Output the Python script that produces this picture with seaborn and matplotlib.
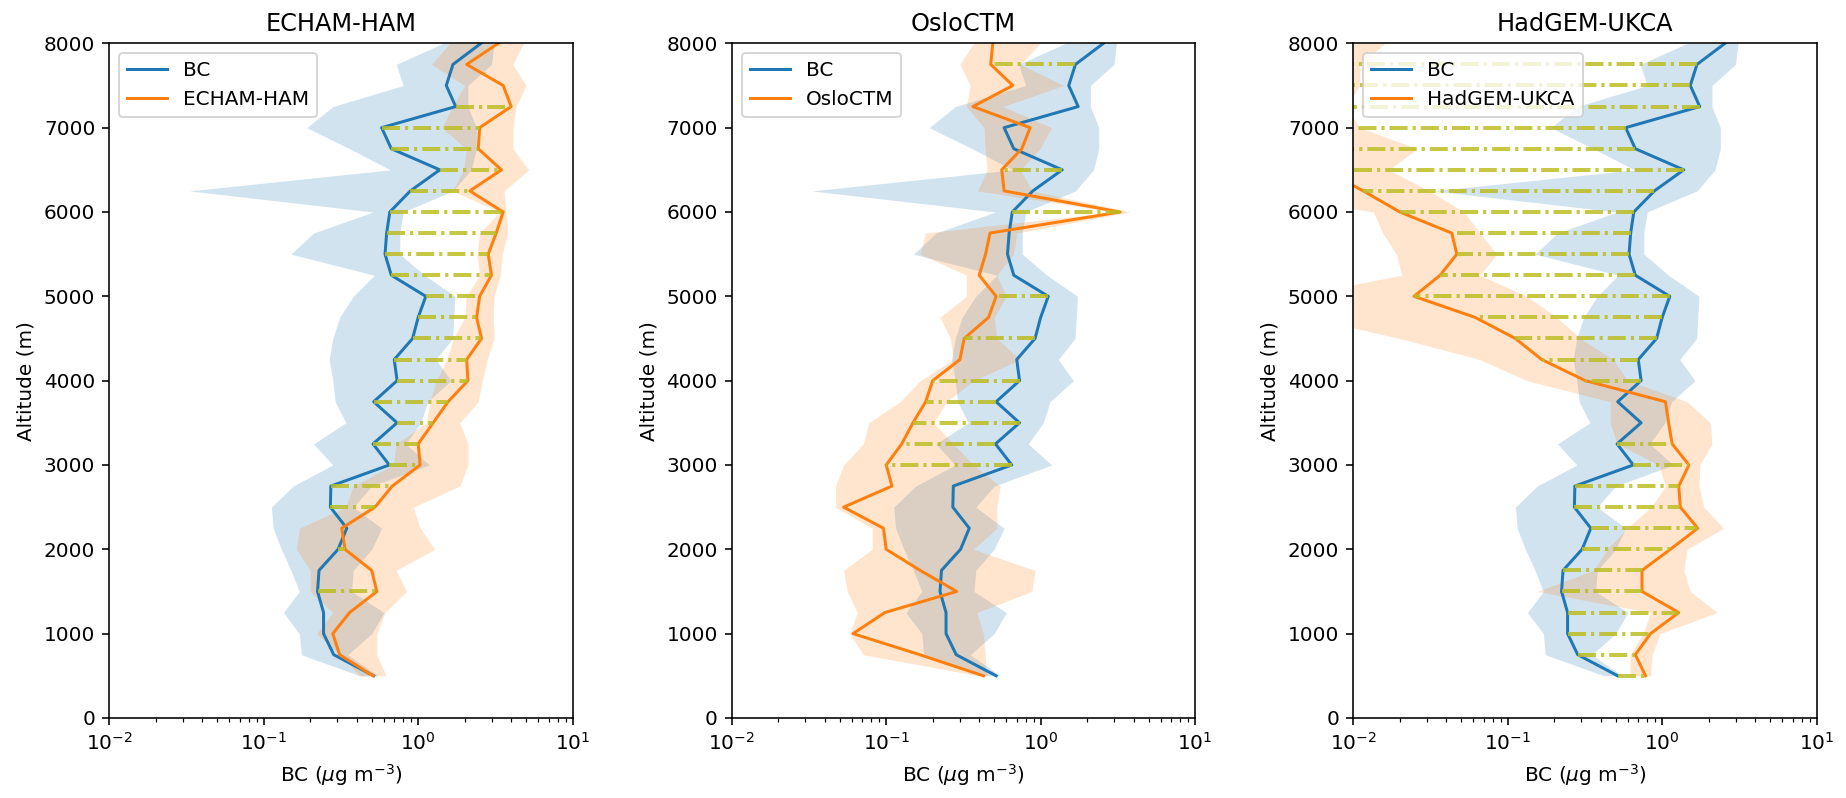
import numpy as np
import pandas as pd
import matplotlib
matplotlib.use("Agg")
import matplotlib.pyplot as plt
import seaborn as sns

# ---------------- data ----------------
altitude = [8000, 7750, 7500, 7250, 7000, 6750, 6500, 6250, 6000, 5750, 5500,
            5250, 5000, 4750, 4500, 4250, 4000, 3750, 3500, 3250, 3000, 2750,
            2500, 2250, 2000, 1750, 1500, 1250, 1000, 750, 500]

bc = [2.55, 1.68, 1.52, 1.75, 0.58, 0.67, 1.38, 0.89, 0.655, 0.625, 0.61,
      0.67, 1.12, 1.0, 0.92, 0.70, 0.73, 0.515, 0.73, 0.51, 0.65, 0.272,
      0.27, 0.345, 0.303, 0.228, 0.223, 0.244, 0.244, 0.284, 0.515]
bc_lo = [1.45, 0.72, 0.80, 0.28, 0.19, 0.36, 0.66, 0.033, 0.51, 0.21, 0.15,
         0.52, 0.38, 0.31, 0.28, 0.265, 0.28, 0.29, 0.34, 0.21, 0.28, 0.155,
         0.112, 0.115, 0.13, 0.15, 0.17, 0.134, 0.17, 0.175, 0.42]
bc_hi = [3.1, 2.98, 2.1, 2.1, 2.38, 2.38, 2.2, 1.68, 0.8, 0.76, 0.76,
         1.1, 1.73, 1.7, 1.67, 1.3, 1.63, 1.15, 1.04, 0.83, 1.18, 0.5,
         0.38, 0.58, 0.5, 0.38, 0.37, 0.6, 0.5, 0.35, 0.55]

echam = [3.3, 2.06, 3.55, 4.0, 2.5, 2.45, 3.46, 2.16, 3.55, 3.2, 2.84,
         2.98, 2.5, 2.39, 2.57, 2.06, 2.1, 1.56, 1.25, 1.0, 1.03, 0.68,
         0.525, 0.32, 0.336, 0.50, 0.54, 0.36, 0.28, 0.31, 0.51]
echam_lo = [1.6, 1.22, 2.0, 1.67, 1.42, 2.05, 1.97, 1.67, 3.38, 2.5, 2.4,
            2.5, 2.05, 2.0, 1.69, 1.53, 1.31, 1.19, 1.13, 0.72, 0.69, 0.38,
            0.34, 0.17, 0.163, 0.2, 0.2, 0.28, 0.22, 0.31, 0.42]
echam_hi = [4.8, 4.1, 5.0, 4.3, 4.1, 4.1, 5.2, 3.6, 3.7, 3.8, 3.5,
            3.4, 3.1, 3.06, 3.1, 2.8, 2.6, 2.45, 1.86, 2.1, 2.1, 1.86,
            0.93, 1.03, 1.28, 0.72, 0.84, 0.61, 0.54, 0.54, 0.62]

oslo = [0.49, 0.475, 0.66, 0.364, 0.855, 0.755, 0.56, 0.58, 3.27, 0.47, 0.44,
        0.40, 0.515, 0.46, 0.32, 0.30, 0.20, 0.18, 0.149, 0.126, 0.10, 0.109,
        0.053, 0.096, 0.10, 0.166, 0.286, 0.098, 0.061, 0.165, 0.426]
oslo_lo = [0.367, 0.30, 0.35, 0.33, 0.43, 0.437, 0.45, 0.39, 2.96, 0.179, 0.166,
           0.33, 0.33, 0.223, 0.26, 0.272, 0.166, 0.123, 0.077, 0.071, 0.053, 0.047,
           0.047, 0.081, 0.081, 0.053, 0.056, 0.065, 0.058, 0.071, 0.40]
oslo_hi = [0.99, 0.74, 1.41, 0.57, 1.18, 0.99, 0.74, 0.88, 3.8, 0.70, 0.667,
           0.52, 0.6, 0.5, 0.52, 0.737, 0.367, 0.247, 0.202, 0.272, 0.367, 0.547,
           0.52, 0.52, 0.367, 0.92, 0.877, 0.386, 0.426, 0.437, 0.448]

hadgem = [0.004, 0.003, 0.003, 0.002, 0.003, 0.004, 0.0064, 0.0116, 0.020, 0.0434, 0.0468,
          0.0365, 0.0247, 0.0615, 0.112, 0.166, 0.318, 1.05, 1.10, 1.16, 1.49, 1.28,
          1.31, 1.70, 1.13, 0.74, 0.74, 1.28, 0.84, 0.67, 0.78]
hadgem_lo = [0.001, 0.001, 0.001, 0.0005, 0.001, 0.001, 0.001, 0.002, 0.0135, 0.0155, 0.019,
             0.0206, 0.004, 0.005, 0.02, 0.066, 0.133, 0.46, 0.46, 0.51, 0.95, 1.05,
             0.85, 0.59, 0.44, 0.36, 0.155, 0.84, 0.75, 0.62, 0.62]
hadgem_hi = [0.016, 0.011, 0.011, 0.009, 0.011, 0.026, 0.017, 0.031, 0.052, 0.066, 0.085,
             0.066, 0.133, 0.208, 0.295, 0.48, 0.6, 1.45, 2.05, 2.1, 1.75, 1.73,
             1.86, 2.5, 1.45, 1.38, 1.52, 2.27, 0.97, 0.86, 0.84]

# altitudes where the model differs significantly from observations
sig_echam = [7250, 7000, 6750, 6500, 6250, 6000, 5750, 5500, 5250, 5000, 4750,
             4500, 4250, 4000, 3750, 3500, 3250, 3000, 2750, 2500, 2000, 1500]
sig_oslo = [7750, 6500, 6000, 5000, 4500, 4000, 3750, 3500, 3250, 3000]
sig_hadgem = [7750, 7500, 7250, 7000, 6750, 6500, 6250, 6000, 5750, 5500, 5250,
              5000, 4750, 4500, 4250, 4000, 3250, 3000, 2750, 2500, 2250, 2000,
              1750, 1500, 1250, 1000, 750, 500]

models = ["ECHAM-HAM", "OsloCTM", "HadGEM-UKCA"]
model_vals = [echam, oslo, hadgem]
model_lo = [echam_lo, oslo_lo, hadgem_lo]
model_hi = [echam_hi, oslo_hi, hadgem_hi]
model_sig = [sig_echam, sig_oslo, sig_hadgem]

# ---------------- plotting ----------------
DPI = 144
fig = plt.figure(figsize=(1846 / DPI, 798 / DPI), dpi=DPI)
lefts = [0.0592, 0.3964, 0.7331]
bottom, width, height = 0.1003, 0.2510, 0.8454

for i, name in enumerate(models):
    ax = fig.add_axes([lefts[i], bottom, width, height])
    df = pd.DataFrame({"alt": altitude, "bc": bc, "bc_lo": bc_lo, "bc_hi": bc_hi,
                       "m": model_vals[i], "m_lo": model_lo[i], "m_hi": model_hi[i]})
    ax.fill_betweenx(df["alt"], df["bc_lo"], df["bc_hi"], color="tab:blue",
                     alpha=0.2, lw=0)
    ax.fill_betweenx(df["alt"], df["m_lo"], df["m_hi"], color="tab:orange",
                     alpha=0.2, lw=0)
    sns.lineplot(data=df, x="bc", y="alt", orient="y", sort=False, estimator=None,
                 ax=ax, color="tab:blue", lw=1.5, label="BC")
    sns.lineplot(data=df, x="m", y="alt", orient="y", sort=False, estimator=None,
                 ax=ax, color="tab:orange", lw=1.5, label=name)
    idx = {a: k for k, a in enumerate(altitude)}
    for a in model_sig[i]:
        k = idx[a]
        ax.plot([bc[k], model_vals[i][k]], [a, a],
                linestyle=(0, (4.5, 1.25, 0.8, 1.25)),
                color="tab:olive", alpha=0.85, lw=2)
    ax.set_xscale("log")
    ax.set_xlim(1e-2, 1e1)
    ax.set_ylim(0, 8000)
    ax.set_yticks(range(0, 8001, 1000))
    ax.set_title(name, fontsize=12)
    ax.set_xlabel(r"BC ($\mu$g m$^{-3}$)", fontsize=10)
    ax.set_ylabel("Altitude (m)", fontsize=10)
    ax.tick_params(labelsize=10)
    ax.legend(loc="upper left", fontsize=10)

fig.savefig("out.png", dpi=DPI)
